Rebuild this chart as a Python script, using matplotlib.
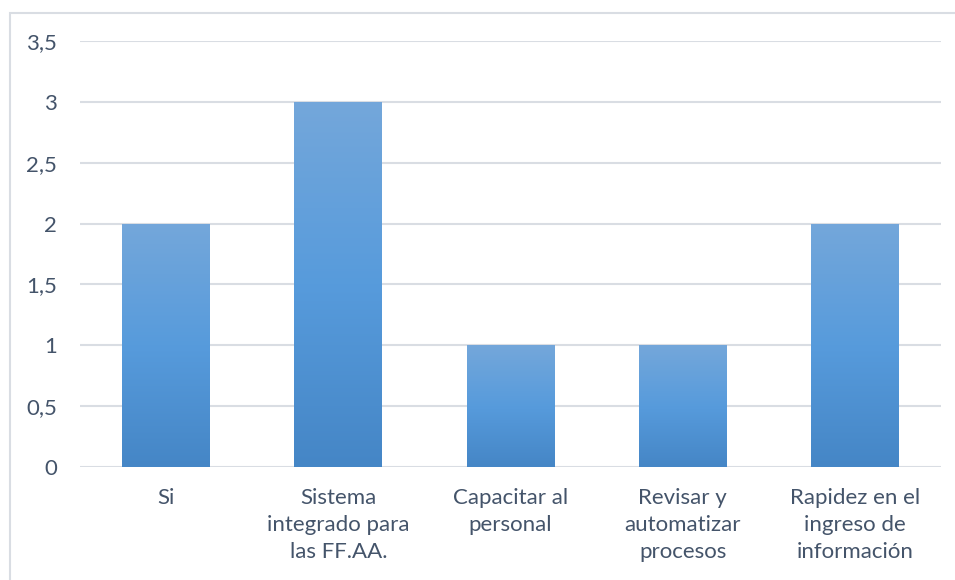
import numpy as np
import matplotlib.pyplot as plt
from matplotlib.colors import LinearSegmentedColormap
from matplotlib.patches import Rectangle

categories = ['Si', 'Sistema\nintegrado para\nlas FF.AA.', 'Capacitar al\npersonal',
              'Revisar y\nautomatizar\nprocesos', 'Rapidez en el\ningreso de\ninformación']
values = [2, 3, 1, 1, 2]
yticks = [0, 0.5, 1, 1.5, 2, 2.5, 3, 3.5]
ytick_labels = ['0', '0,5', '1', '1,5', '2', '2,5', '3', '3,5']

text_color = '#44546a'
grid_color = '#d9dde3'

plt.rcParams['font.family'] = ['Lato', 'DejaVu Sans']

W, H = 955, 580
fig = plt.figure(figsize=(W / 100, H / 100), dpi=100)
ax = fig.add_axes([80 / W, 1 - 467 / H, (941 - 80) / W, (467 - 41) / H])

# outer chart border (top and left visible)
fig.patches.append(Rectangle((9.5 / W, -0.1), 1.2, 1 - 12.5 / H + 0.1, transform=fig.transFigure,
                             fill=False, edgecolor=grid_color, linewidth=1.5, zorder=0))

x = np.arange(len(categories))
bars = ax.bar(x, values, width=0.51, color='none', zorder=2)

# vertical gradient fill for each bar
cmap = LinearSegmentedColormap.from_list('g', ['#4586c6', '#579bdc', '#74a7da'])
grad = np.linspace(0, 1, 256).reshape(-1, 1)
for b in bars:
    bx, by = b.get_x(), b.get_y()
    bw, bh = b.get_width(), b.get_height()
    im = ax.imshow(grad, cmap=cmap, origin='lower', aspect='auto',
                   extent=[bx, bx + bw, by, by + bh], zorder=2)
    im.set_clip_path(b)

ax.set_xlim(-0.5, len(categories) - 0.5)
ax.set_ylim(0, 3.5)
ax.set_yticks(yticks)
ax.set_yticklabels(ytick_labels)
ax.set_xticks(x)
ax.set_xticklabels(categories, linespacing=1.45)
ax.grid(axis='y', color=grid_color, linewidth=1.5, zorder=0)
ax.set_axisbelow(True)
for s in ax.spines.values():
    s.set_visible(False)
ax.tick_params(axis='both', length=0, labelsize=16, colors=text_color)
ax.tick_params(axis='y', pad=16.5)
ax.tick_params(axis='x', pad=15)

fig.savefig('out.png', dpi=100)
